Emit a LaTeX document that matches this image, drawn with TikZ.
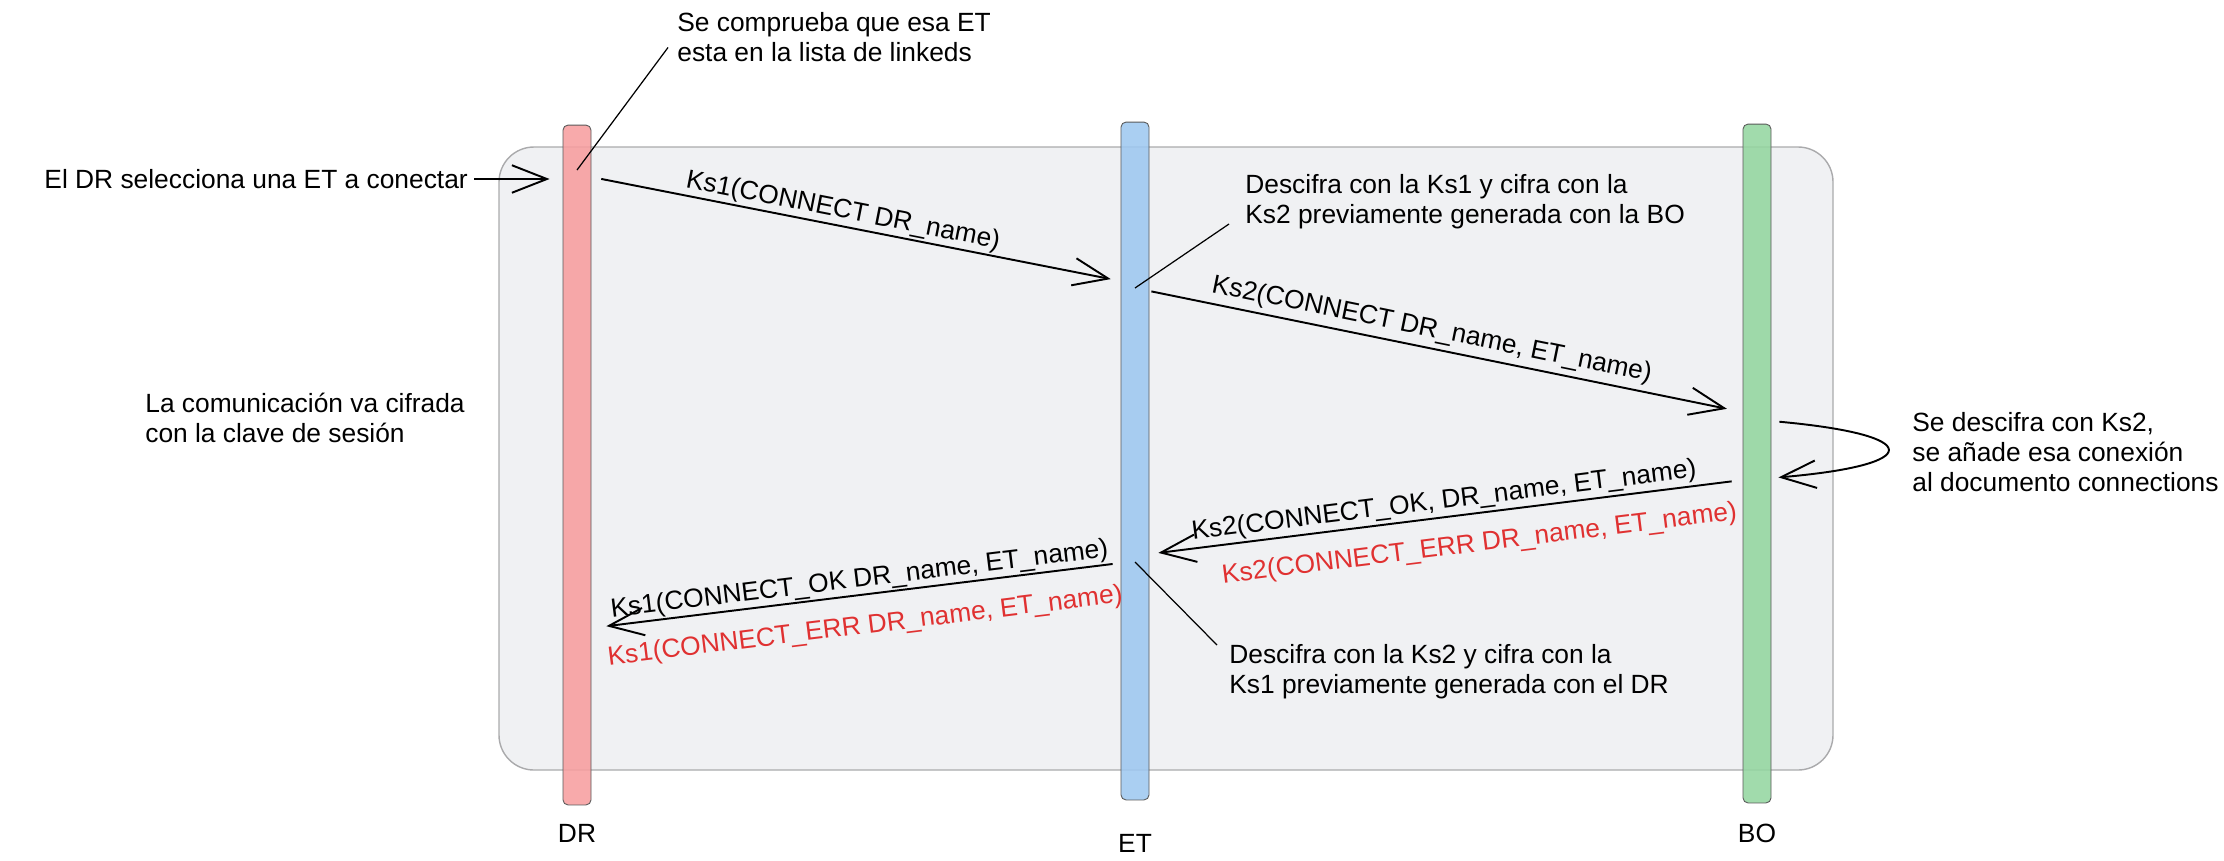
\documentclass[tikz,border=0pt]{standalone}
\usepackage{fontspec}
\setmainfont{Liberation Sans}
\usetikzlibrary{arrows.meta}
\begin{document}
\begin{tikzpicture}[x=0.02cm,y=-0.02cm,>={Straight Barb[length=0.7cm,width=0.55cm]},
    font=\fontsize{15}{17}\selectfont,
    bar/.style={draw=black!65,line width=0.5pt,rounded corners=0.1cm,minimum width=0.56cm,fill opacity=0.88},
    note/.style={align=left,anchor=west,inner sep=0.18cm},
    msg/.style={->,line width=1.1pt},
    ptr/.style={line width=0.7pt},
    err/.style={text=errRed}]
            \definecolor{drFill}{RGB}{247,158,159}
            \definecolor{etFill}{RGB}{158,200,240}
            \definecolor{boFill}{RGB}{148,214,160}
            \definecolor{boxFill}{RGB}{212,216,222}
            \definecolor{boxLine}{RGB}{170,170,172}
            \definecolor{errRed}{RGB}{224,49,49}
            \useasboundingbox (0,0) rectangle (2224,860);
            \fill[boxFill,fill opacity=0.35,rounded corners=0.7cm] (499,147) rectangle (1833,770);
            \draw[boxLine,line width=0.8pt,rounded corners=0.7cm] (499,147) rectangle (1833,770);
            \node[bar,fill=drFill,minimum height=13.6cm] (dr) at (577,465) {};
            \node[bar,fill=etFill,minimum height=13.56cm] (et) at (1135,461) {};
            \node[bar,fill=boFill,minimum height=13.58cm] (bo) at (1757,463.5) {};
            \node (lblDR) at (577,833) {DR};
            \node (lblET) at (1135,843) {ET};
            \node (lblBO) at (1757,833) {BO};
            \node[anchor=east] (intro) at (474,179) {El DR selecciona una ET a conectar};
            \node[note] (note1) at (668,37.5) {Se comprueba que esa ET\\esta en la lista de linkeds};
            \node[note] (note2) at (1236,202) {Descifra con la Ks1 y cifra con la\\Ks2 previamente generada con la BO};
            \node[note] (note3) at (1220,672) {Descifra con la Ks2 y cifra con la\\Ks1 previamente generada con el DR};
            \node[note] (note4) at (1903,452) {Se descifra con Ks2,\\se añade esa conexión\\al documento connections};
            \node[note] (note5) at (136,418) {La comunicación va cifrada\\con la clave de sesión};
            \draw[msg,shorten >=0.26cm] (intro.east) -- (dr.west |- intro.east);
            \draw[ptr] ([yshift=-0.2cm]note1.west) -- (dr.center |- 0,170);
            \draw[ptr] ([xshift=-0.14cm,yshift=-0.44cm]note2.west) -- (et.center |- 0,288);
            \draw[ptr] ([xshift=-0.06cm,yshift=0.54cm]note3.west) -- (et.center |- 0,562);
            \draw[msg,shorten <=0.2cm,shorten >=0.2cm] (dr.east |- 0,177) -- node[sloped,above=-2.4pt,pos=0.47] {Ks1(CONNECT DR\_name)} (et.west |- 0,281);
            \draw[msg,shorten <=0.04cm,shorten >=0.32cm] (et.east |- 0,291) -- node[sloped,above=-0.6pt,pos=0.47] {Ks2(CONNECT DR\_name, ET\_name)} (bo.west |- 0,412);
            \draw[msg,shorten <=0.16cm,shorten >=0.14cm] (bo.east |- 0,421) .. controls (1925,435) and (1925,465) .. (bo.east |- 0,478);
            \draw[msg,<-,shorten <=0.18cm,shorten >=0.22cm] (et.east |- 0,554) -- node[sloped,above=-2pt,pos=0.5] {Ks2(CONNECT\_OK, DR\_name, ET\_name)} node[sloped,below=7pt,pos=0.55,err] {Ks2(CONNECT\_ERR DR\_name, ET\_name)} (bo.west |- 0,480);
            \draw[msg,<-,shorten <=0.3cm,shorten >=0.16cm] (dr.east |- 0,628) -- node[sloped,above=-2.5pt,pos=0.51] {Ks1(CONNECT\_OK DR\_name, ET\_name)} node[sloped,below=7.5pt,pos=0.51,err] {Ks1(CONNECT\_ERR DR\_name, ET\_name)} (et.west |- 0,563);
        \end{tikzpicture}
\end{document}
